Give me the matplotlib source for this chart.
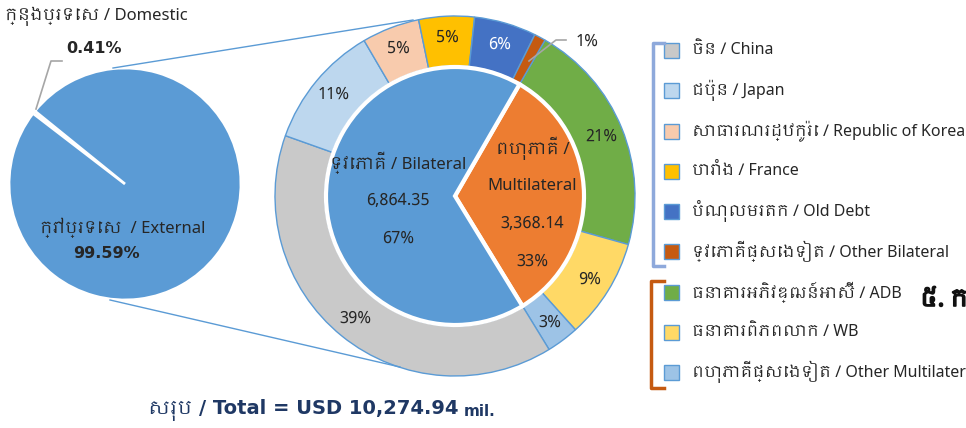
import numpy as np
import matplotlib.pyplot as plt
import matplotlib.patheffects as pe
from matplotlib import font_manager

# look for a Khmer capable font, fall back to DejaVu Sans
khmer = sorted(set(f.name for f in font_manager.fontManager.ttflist if 'Khmer' in f.name))
FAMILY = khmer + ['DejaVu Sans']
BOLD_FAMILY = ['DejaVu Sans'] + khmer
plt.rcParams['font.family'] = FAMILY

# ---- data (USD million) ----
domestic_label = 'ក្នុងប្រទេស / Domestic'
external_label = 'ក្រៅប្រទេស  / External'
domestic_value = 42.45
external_value = 10232.49

inner_labels = ['ពហុភាគី /\nMultilateral', 'ទ្វេភាគី / Bilateral']
inner_values = [3368.14, 6864.35]

bilateral_names = ['ចិន / China', 'ជប៉ុន / Japan', 'សាធារណរដ្ឋកូរ៉េ / Republic of Korea',
                   'បារាំង / France', 'បំណុលមរតក / Old Debt', 'ទ្វេភាគីផ្សេងទៀត / Other Bilateral']
bilateral_values = [4010, 1140, 530, 510, 570, 104.35]
bilateral_colors = ['#C9C9C9', '#BDD7EE', '#F8CBAD', '#FFC000', '#4472C4', '#C55A11']

multilateral_names = ['ធនាគារអភិវឌ្ឍន៍អាស៊ី / ADB', 'ធនាគារពិភពលោក / WB',
                      'ពហុភាគីផ្សេងទៀត / Other Multilateral']
multilateral_values = [2150, 920, 298.14]
multilateral_colors = ['#70AD47', '#FFD966', '#9DC3E6']

total_text = 'សរុប / Total = USD 10,274.94'

BLUE = '#5B9BD5'
TXT = '#262626'

fig = plt.figure(figsize=(9.66, 4.28), dpi=100)
ax = fig.add_axes([0, 0, 1, 1])
ax.set_xlim(0, 966)
ax.set_ylim(0, 428)
ax.set_aspect('equal')
ax.axis('off')

H = 428

# ---- left pie: domestic vs external ----
lc = (125, H - 184)
left_total = domestic_value + external_value
ax.pie([domestic_value, external_value], colors=[BLUE, BLUE], center=lc, radius=116,
       startangle=141, wedgeprops=dict(edgecolor='white', linewidth=2), frame=True)
ax.text(5, H - 16, domestic_label, fontsize=12, color=TXT, va='center', ha='left')
ax.text(66, H - 48, f'{domestic_value / left_total * 100:.2f}%', fontsize=11.5, weight='bold',
        family=BOLD_FAMILY, color=TXT, va='center', ha='left')
ax.plot([62, 51, 36], [H - 61, H - 61, H - 109], color='#A6A6A6', lw=1.2)
ax.text(40, H - 228, external_label, fontsize=12, color=TXT, va='center', ha='left')
ax.text(106, H - 254, f'{external_value / left_total * 100:.2f}%', fontsize=11.5, weight='bold',
        family=BOLD_FAMILY, color=TXT, va='center', ha='center')

# connector lines
ax.plot([113, 413], [H - 68, H - 20], color=BLUE, lw=1)
ax.plot([110, 400], [H - 300, H - 367], color=BLUE, lw=1)

# ---- right donut ----
rc = (455, H - 196)
outer_values = multilateral_values + bilateral_values
outer_colors = multilateral_colors + bilateral_colors
ext_total = sum(outer_values)
wedges, _ = ax.pie(outer_values, colors=outer_colors, center=rc, radius=180, startangle=60,
                   counterclock=False,
                   wedgeprops=dict(width=50, edgecolor=BLUE, linewidth=1), frame=True)
for i, w in enumerate(wedges):
    pct = outer_values[i] / ext_total * 100
    mid = np.deg2rad((w.theta1 + w.theta2) / 2)
    if pct < 2:
        ax.text(576, H - 42, f'{pct:.0f}%', fontsize=12, color=TXT, va='center', ha='left')
        ax.plot([566, 556, 529], [H - 40, H - 40, H - 61], color='#A6A6A6', lw=1.2)
        continue
    r = 158
    col = 'white' if outer_colors[i] == '#4472C4' else TXT
    ax.text(rc[0] + r * np.cos(mid), rc[1] + r * np.sin(mid), f'{pct:.0f}%',
            fontsize=12, color=col, va='center', ha='center')

inner_colors = ['#ED7D31', BLUE]
iw, _ = ax.pie(inner_values, colors=inner_colors, center=rc, radius=129, startangle=60,
               counterclock=False, wedgeprops=dict(edgecolor='white', linewidth=3), frame=True)
inner_total = sum(inner_values)
frac = [0.6, 0.44]
shift = [-10, -4]
for i, w in enumerate(iw):
    mid = np.deg2rad((w.theta1 + w.theta2) / 2)
    x = rc[0] + 129 * frac[i] * np.cos(mid)
    y = rc[1] + 129 * frac[i] * np.sin(mid) + shift[i]
    lines = inner_labels[i].split('\n') + [f'{inner_values[i]:,.2f}',
                                           f'{inner_values[i] / inner_total * 100:.0f}%']
    step = 37.7 if i == 0 else 38
    y0 = y + step * (len(lines) - 1) / 2
    for k, s in enumerate(lines):
        ax.text(x, y0 - k * step, s, fontsize=12, color=TXT, va='center', ha='center')

# ---- legend ----
names = bilateral_names + multilateral_names
colors = bilateral_colors + multilateral_colors
rows = [50, 90, 131, 171, 211, 251, 292, 332, 372]
for name, col, yy in zip(names, colors, rows):
    ax.add_patch(plt.Rectangle((664, H - yy - 8), 15, 15, facecolor=col, edgecolor=BLUE, lw=1))
    ax.text(692, H - yy, name, fontsize=11.5, color=TXT, va='center', ha='left')

ax.plot([664, 653, 653, 664], [H - 43, H - 43, H - 266, H - 266], color='#8EA9DB', lw=2.5)
ax.plot([664, 651, 651, 664], [H - 281, H - 281, H - 388, H - 388], color='#C55A11', lw=2.5)

# heading cut by the right edge; the Khmer font has no bold face, so thicken it
ax.text(920, H - 300, '៥. ក', fontsize=17, color='#111111', va='center', ha='left',
        path_effects=[pe.withStroke(linewidth=1.2, foreground='#111111')])

# ---- total ----
t = ax.text(148, H - 410, total_text, fontsize=14, color='#1F3864', va='center', ha='left',
            weight='bold', family=BOLD_FAMILY)
fig.canvas.draw()
bb = t.get_window_extent()
ax.text(bb.x1 + 5, H - 411, 'mil.', fontsize=11, color='#1F3864', va='center', ha='left',
        weight='bold', family=BOLD_FAMILY)

fig.savefig('out.png', dpi=100)
